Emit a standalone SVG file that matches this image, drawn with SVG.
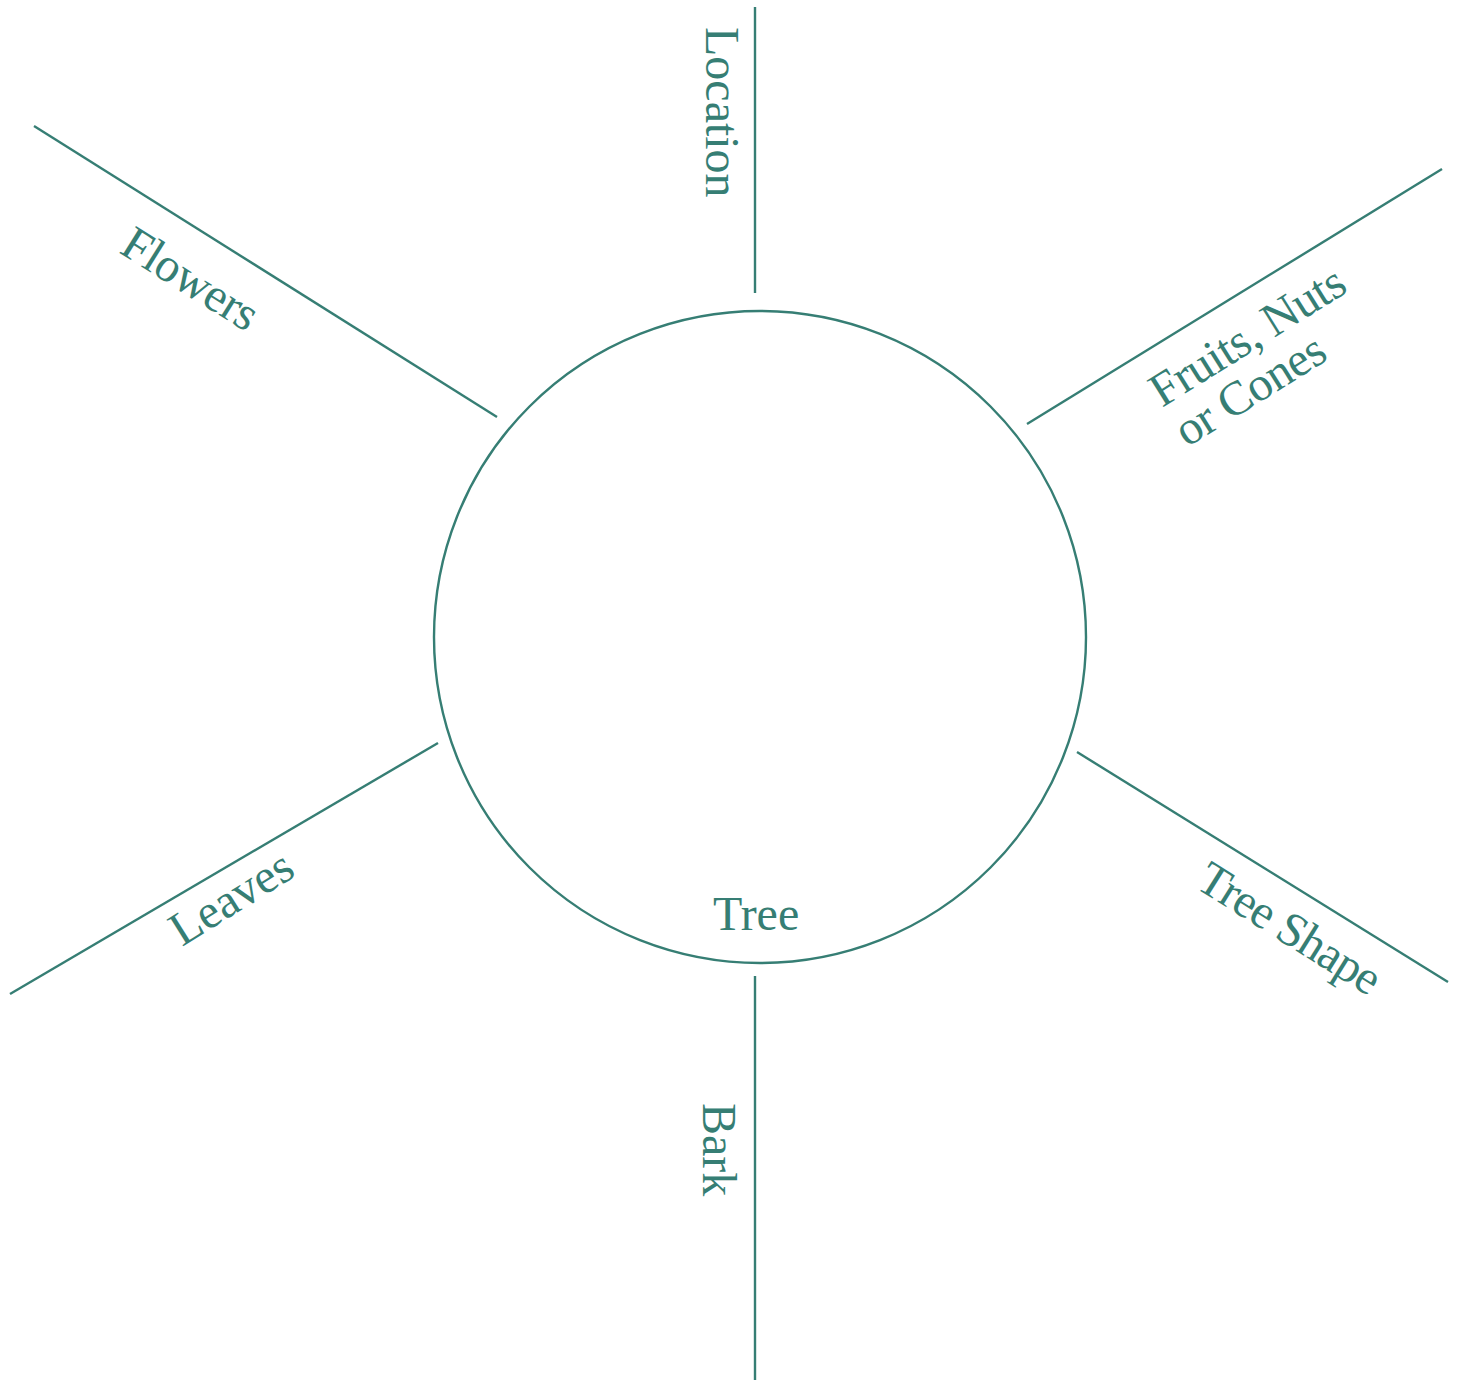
<svg xmlns="http://www.w3.org/2000/svg" width="1460" height="1381" viewBox="0 0 1460 1381">
<style>
.ln{stroke:#367e74;stroke-width:2.4;fill:none}
.lb{font-family:"Liberation Serif","Times New Roman",serif;font-size:48px;fill:#367e74}
</style>
<rect width="1460" height="1381" fill="#ffffff"/>
<g id="connectors">
<line class="ln" x1="755" y1="7" x2="755" y2="293"/>
<line class="ln" x1="34" y1="126" x2="497" y2="417"/>
<line class="ln" x1="1442" y1="169" x2="1027" y2="424"/>
<line class="ln" x1="438" y1="743" x2="10" y2="994"/>
<line class="ln" x1="1077" y1="752" x2="1448" y2="982"/>
<line class="ln" x1="755" y1="976" x2="755" y2="1380"/>
</g>
<g id="tree">
<circle class="ln" cx="760" cy="637" r="326"/>
<text class="lb" x="713" y="930">Tree</text>
</g>
<g id="location"><text class="lb" transform="translate(706,27) rotate(90)">Location</text></g>
<g id="flowers"><text class="lb" transform="translate(118,252) rotate(32)" letter-spacing="-0.5">Flowers</text></g>
<g id="fruits"><text class="lb" transform="translate(1162,408) rotate(-32)" letter-spacing="-0.5"><tspan x="0" y="0">Fruits, Nuts</tspan><tspan x="0" y="47">or Cones</tspan></text></g>
<g id="leaves"><text class="lb" transform="translate(182,947) rotate(-32)">Leaves</text></g>
<g id="treeshape"><text class="lb" transform="translate(1194,887) rotate(32)" letter-spacing="-1">Tree Shape</text></g>
<g id="bark"><text class="lb" transform="translate(703,1103) rotate(90)">Bark</text></g>
</svg>
